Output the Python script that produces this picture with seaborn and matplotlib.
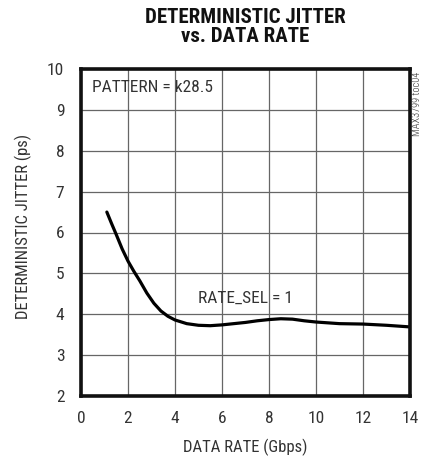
import matplotlib
matplotlib.use("Agg")
import matplotlib.pyplot as plt
import seaborn as sns
import pandas as pd

# Data
data_rate = [1.1, 1.3, 1.5, 1.75, 2.0, 2.25, 2.5, 2.8, 3.1, 3.4, 3.7, 4.0, 4.5, 5.0, 5.5, 6.0, 6.5, 7.0, 7.5, 8.0, 8.5, 9.0, 9.5, 10.0, 11.0, 12.0, 13.0, 14.0]
jitter = [6.5, 6.22, 5.95, 5.6, 5.3, 5.05, 4.82, 4.52, 4.27, 4.08, 3.95, 3.86, 3.77, 3.73, 3.72, 3.74, 3.77, 3.8, 3.84, 3.87, 3.89, 3.88, 3.84, 3.81, 3.77, 3.76, 3.73, 3.69]
x_ticks = [0, 2, 4, 6, 8, 10, 12, 14]
y_ticks = [2, 3, 4, 5, 6, 7, 8, 9, 10]

sns.set_style("white")
plt.rcParams["font.family"] = ["Roboto Condensed", "DejaVu Sans"]

fig = plt.figure(figsize=(4.25, 4.58), dpi=100)
ax = fig.add_axes([81/425, 1-396/458, (410-81)/425, (396-69)/458])

df = pd.DataFrame({"rate": data_rate, "jitter": jitter})
sns.lineplot(data=df, x="rate", y="jitter", ax=ax, color="black", linewidth=2.3)

ax.set_xlim(0, 14)
ax.set_ylim(2, 10)
ax.set_xticks(x_ticks)
ax.set_yticks(y_ticks)
ax.grid(True, color="#666666", linewidth=0.9)
ax.set_axisbelow(True)
for s in ax.spines.values():
    s.set_linewidth(2.6)
    s.set_color("#111111")
ax.tick_params(axis="both", length=0, labelsize=12.5, colors="#333333")
ax.tick_params(axis="x", pad=11)
ax.tick_params(axis="y", pad=12)
ax.set_xlabel("DATA RATE (Gbps)", fontsize=12, color="#333333")
ax.set_ylabel("DETERMINISTIC JITTER (ps)", fontsize=12, color="#333333")
ax.xaxis.set_label_coords(0.5, -0.13)
ax.yaxis.set_label_coords(-0.15, 0.52)

fig.text(245/425, 1-27/458, "DETERMINISTIC JITTER\nvs. DATA RATE", ha="center", va="center",
         fontsize=15, fontweight="heavy", color="#111111", linespacing=1.05)

ax.text(0.45, 9.55, "PATTERN = k28.5", ha="left", va="center", fontsize=12.5, color="#333333")
ax.text(6.98, 4.38, "RATE_SEL = 1", ha="center", va="center", fontsize=12.5, color="#333333")
fig.text(417/425, 1-104/458, "MAX3799 toc04", rotation=90, ha="center", va="center",
         fontsize=7.5, color="#333333", fontweight=300)

fig.savefig("out.png", dpi=100)
